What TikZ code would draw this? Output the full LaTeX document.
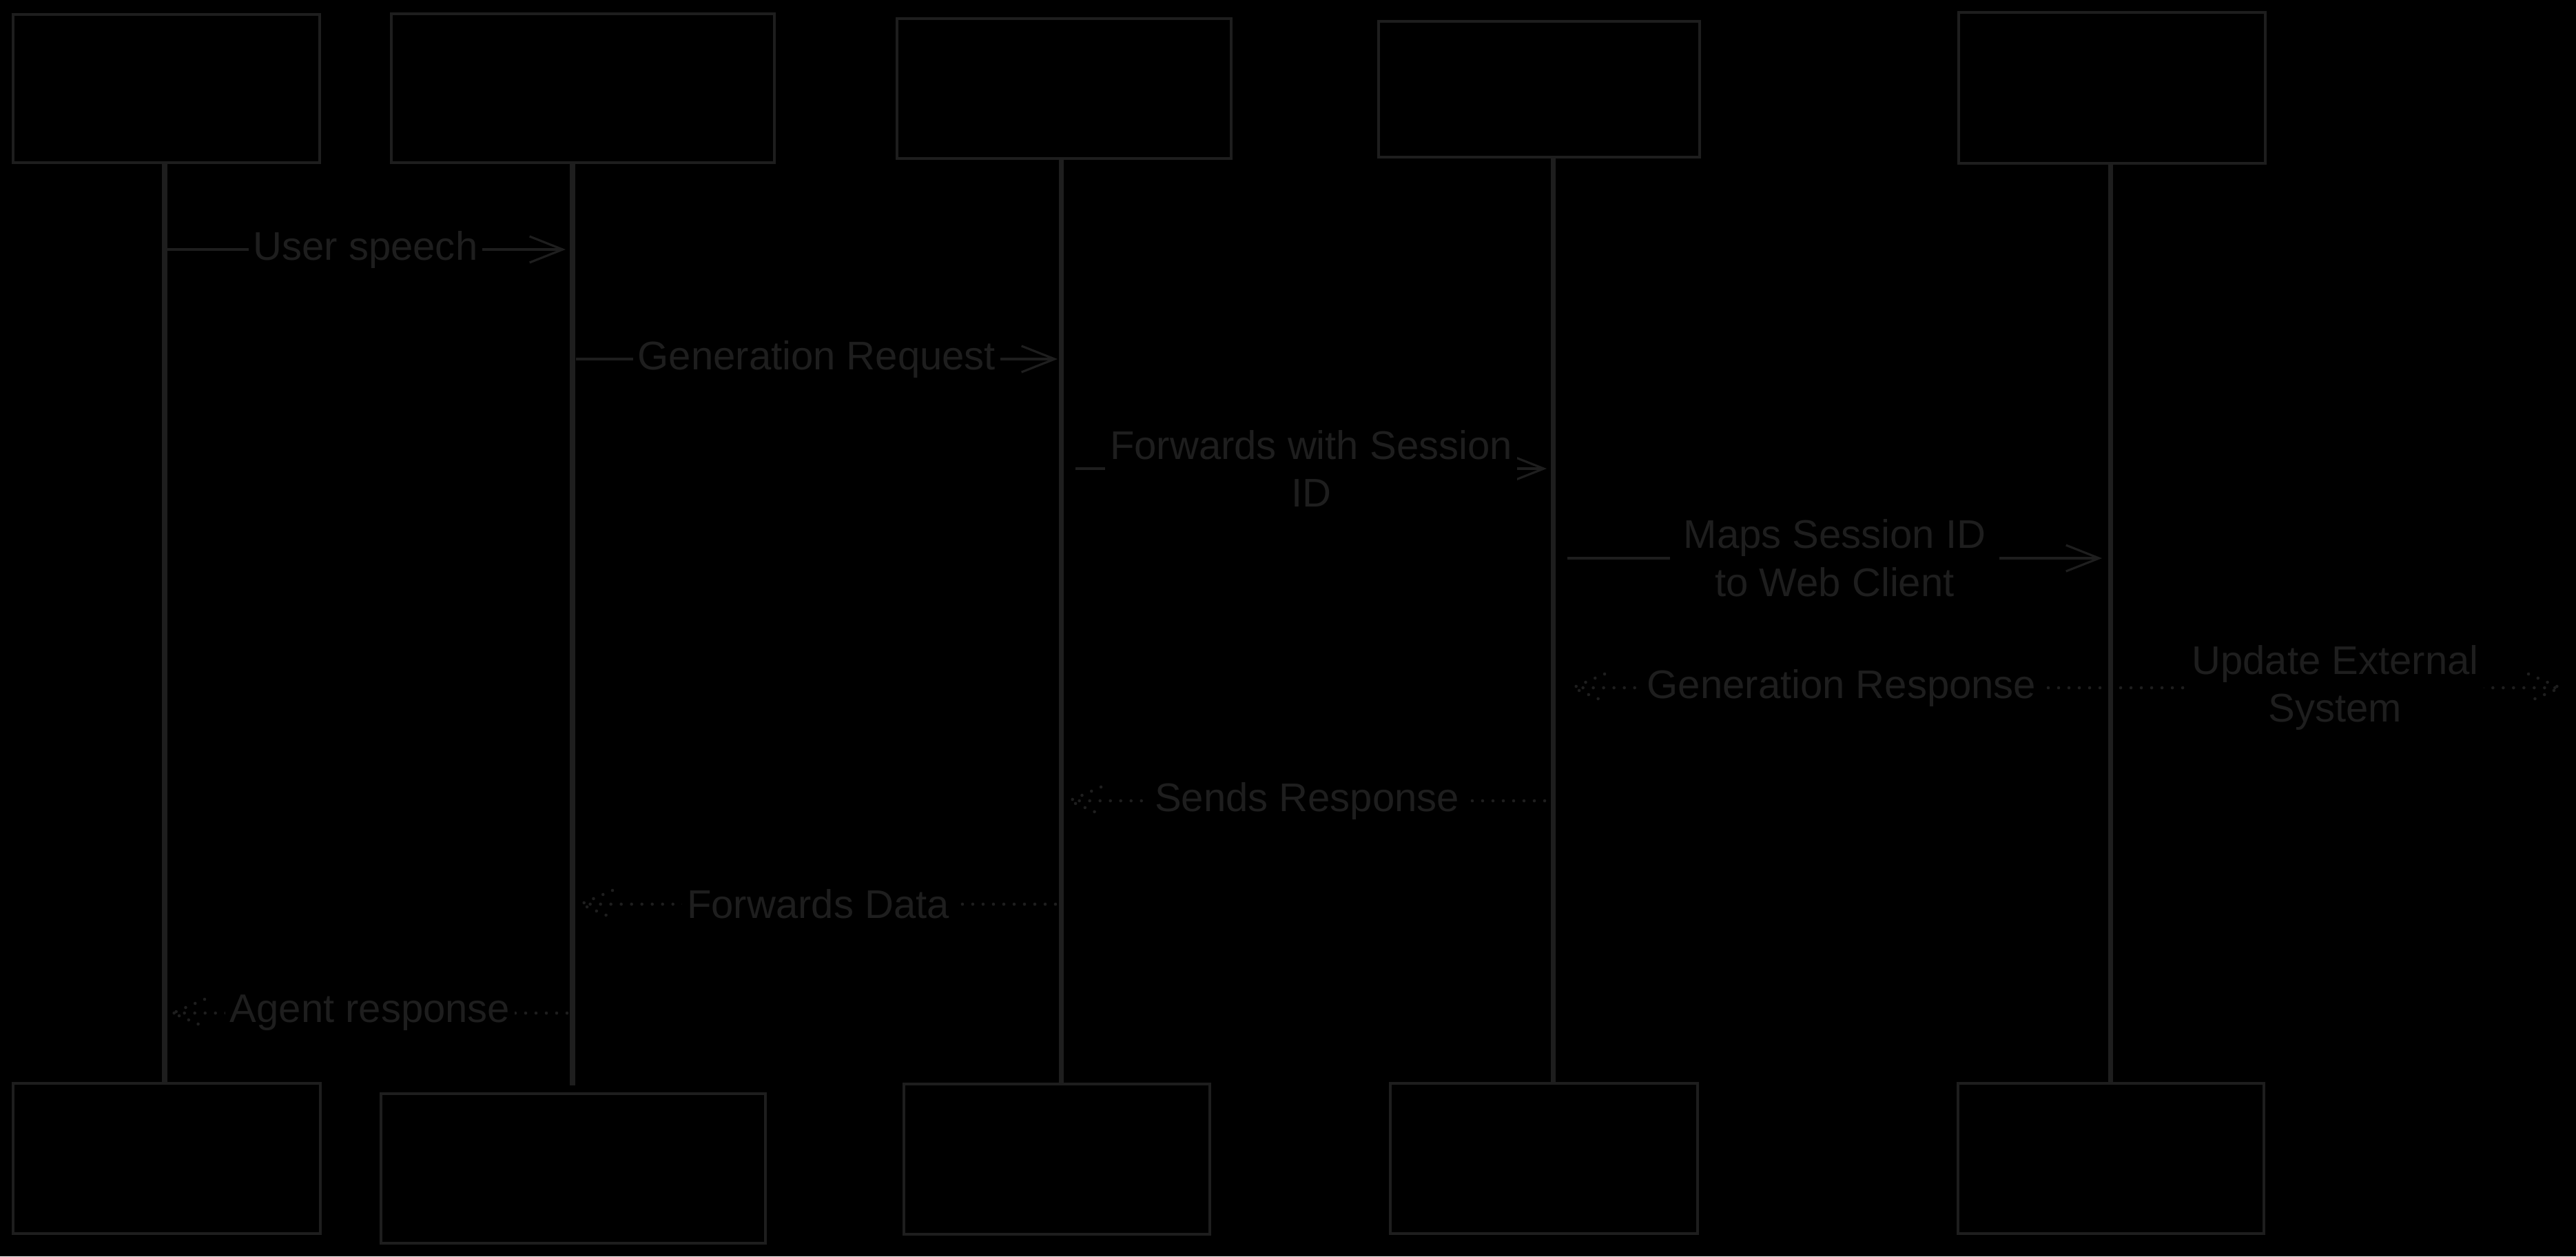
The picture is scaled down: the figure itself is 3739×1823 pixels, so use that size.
\documentclass[tikz,border=0pt]{standalone}
\usepackage{fontspec}
\setmainfont{Liberation Sans}
\usetikzlibrary{arrows.meta}
\definecolor{ink}{HTML}{1E1E1E}
\begin{document}
\begin{tikzpicture}[x=0.01cm,y=-0.01cm,
  box/.style={draw=ink,line width=1pt,rectangle,inner sep=0pt},
  life/.style={draw=ink,line width=2pt},
  msg/.style={draw=ink,line width=0.9pt,-{Straight Barb[length=0.48cm,width=0.38cm,line width=0.9pt]}},
  dotline/.style={draw=ink,line width=1.3pt,line cap=round,dash pattern=on 0pt off 0.15cm},
  reply/.style={dotline},
  pics/lefttip/.style={code={\draw[dotline] (46,-20) -- (0,0) -- (46,20);}},
  pics/righttip/.style={code={\draw[dotline] (-46,-20) -- (0,0) -- (-46,20);}},
  lbl/.style={fill=black,text=ink,inner xsep=2pt,inner ysep=1pt,align=center,
    font=\fontsize{16.5pt}{19.8pt}\selectfont}]
% background / canvas
\fill[black] (0,0) rectangle (3739,1823);
\useasboundingbox (0,0) rectangle (3739,1823);

% top boxes
\node[box,minimum width=4.45cm,minimum height=2.15cm] (t1) at (241.5,128.5) {};
\node[box,minimum width=5.56cm,minimum height=2.16cm] (t2) at (846,128) {};
\node[box,minimum width=4.85cm,minimum height=2.03cm] (t3) at (1544.5,128.5) {};
\node[box,minimum width=4.66cm,minimum height=1.97cm] (t4) at (2234,129.5) {};
\node[box,minimum width=4.45cm,minimum height=2.19cm] (t5) at (3065.5,127.5) {};
% bottom boxes
\node[box,minimum width=4.46cm,minimum height=2.18cm] (b1) at (242,1681) {};
\node[box,minimum width=5.58cm,minimum height=2.17cm] (b2) at (832,1695.5) {};
\node[box,minimum width=4.44cm,minimum height=2.18cm] (b3) at (1534,1682) {};
\node[box,minimum width=4.46cm,minimum height=2.18cm] (b4) at (2241,1681) {};
\node[box,minimum width=4.44cm,minimum height=2.18cm] (b5) at (3064,1681) {};

% lifelines
\coordinate (l1) at (239,0);
\coordinate (l2) at (831,0);
\coordinate (l3) at (1540,0);
\coordinate (l4) at (2254,0);
\coordinate (l5) at (3063,0);
\draw[life] (l1 |- t1.south) -- (l1 |- b1.north);
\draw[life,shorten >=0.1cm] (l2 |- t2.south) -- (l2 |- b2.north);
\draw[life] (l3 |- t3.south) -- (l3 |- b3.north);
\draw[life] (l4 |- t4.south) -- (l4 |- b4.north);
\draw[life] (l5 |- t5.south) -- (l5 |- b5.north);

% message end points
\coordinate (m1s) at (240,362);  \coordinate (m1e) at (821,362);
\coordinate (m2s) at (836,521);  \coordinate (m2e) at (1535,521);
\coordinate (m3s) at (1561,680); \coordinate (m3e) at (2245,680);
\coordinate (m4s) at (2275,810); \coordinate (m4e) at (3051,810);
\coordinate (m5s) at (3063,998); \coordinate (m5e) at (2283,998);
\coordinate (m6e) at (3716,998);
\coordinate (m7s) at (2242,1162); \coordinate (m7e) at (1552,1162);
\coordinate (m8s) at (1532,1312); \coordinate (m8e) at (843,1312);
\coordinate (m9s) at (823,1470);  \coordinate (m9e) at (251,1470);

% messages (solid requests)
\draw[msg] (m1s) -- node[lbl] {User speech} (m1e);
\draw[msg] (m2s) -- node[lbl] {Generation Request} (m2e);
\draw[msg] (m3s) -- node[lbl] {Forwards with Session\\ID} (m3e);
\draw[msg] (m4s) -- node[lbl,inner xsep=0.2cm] {Maps Session ID\\to Web Client} (m4e);
% dotted replies with dotted arrow heads
\draw[reply] (m5s) -- node[lbl] {Generation Response} (m5e);
\pic at (m5e) {lefttip};
\draw[reply] (m5s) -- node[lbl] {Update External\\System} (m6e);
\pic at (m6e) {righttip};
\draw[reply] (m7s) -- node[lbl] {Sends Response} (m7e);
\pic at (m7e) {lefttip};
\draw[reply] (m8s) -- node[lbl] {Forwards Data} (m8e);
\pic at (m8e) {lefttip};
\draw[reply] (m9s) -- node[lbl] {Agent response} (m9e);
\pic at (m9e) {lefttip};
\end{tikzpicture}
\end{document}
